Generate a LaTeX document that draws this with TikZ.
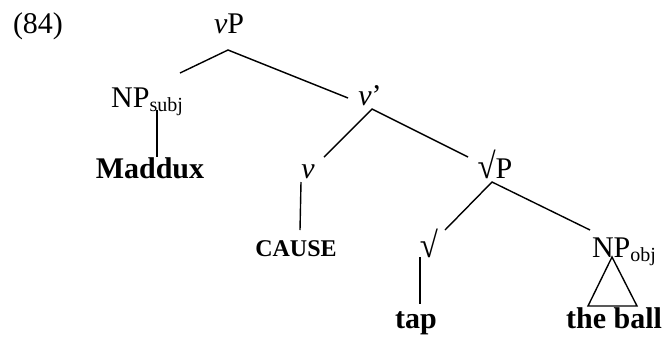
\documentclass[tikz,border=0pt]{standalone}
\usepackage{fontspec}
\setmainfont{Liberation Serif}
\newcommand{\lsub}[1]{\raisebox{-4pt}{\fontsize{20}{24}\selectfont #1}}
\newcommand{\rt}{\scalebox{1.1}[1.2]{√}}
\begin{document}
\begin{tikzpicture}[x=1pt,y=-1pt]

\tikzset{lab/.style={anchor=base,inner sep=0pt,outer sep=0pt,font=\fontsize{30}{36}\selectfont}};
\tikzset{word/.style={lab,font=\fontsize{30}{36}\selectfont\bfseries}};
\tikzset{branch/.style={line width=1.4pt}};

\useasboundingbox (0,0) rectangle (671,341);

\begin{scope}

\node[lab] (ex) at (38,33) {(84)};
\node[lab] (vP) at (229,33) {\textit{v}P};
\node[lab] (NPs) at (147,107) {NP\lsub{subj}};
\node[word] (maddux) at (150,178) {Maddux};
\node[lab] (vbar) at (370,105) {\textit{v}’};
\node[lab] (v) at (308,178) {\textit{v}};
\node[word,font=\fontsize{24}{29}\selectfont\bfseries] (cause) at (296,256) {CAUSE};
\node[lab] (rootP) at (495,178) {\rt P};
\node[lab] (root) at (429,257) {\rt};
\node[word] (tap) at (416,328) {tap};
\node[lab] (NPo) at (624,257) {NP\lsub{obj}};
\node[word] (ball) at (614,328) {the ball};

\draw[branch] ([shift={(33,-34)}]NPs.base) -- ([shift={(-1,17)}]vP.base) -- ([shift={(-22,-7)}]vbar.base);
\draw[branch] ([shift={(10,3)}]NPs.base) -- ([shift={(7,-21)}]maddux.base);

\draw[branch] ([shift={(16,-21)}]v.base) -- ([shift={(2,4)}]vbar.base) -- ([shift={(-27,-21)}]rootP.base);
\draw[branch] ([shift={(-7,4)}]v.base) -- ([shift={(4,-26)}]cause.base);

\draw[branch] ([shift={(16,-27)}]root.base) -- ([shift={(-3,4)}]rootP.base) -- ([shift={(-34,-27)}]NPo.base);
\draw[branch] ([shift={(-9,0)}]root.base) -- ([shift={(4,-24)}]tap.base);
\draw[branch] ([shift={(-12,0)}]NPo.base) -- ([shift={(-26,-22)}]ball.base) -- ([shift={(23,-22)}]ball.base) -- cycle;

\end{scope}

\end{tikzpicture}
\end{document}
